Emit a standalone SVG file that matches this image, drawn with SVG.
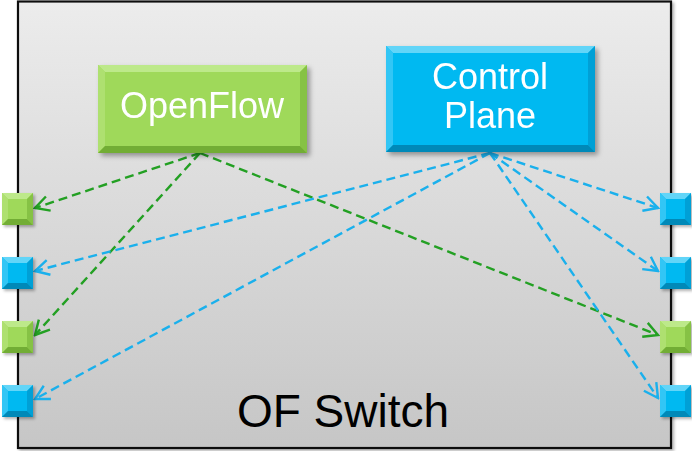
<svg xmlns="http://www.w3.org/2000/svg" width="692" height="451" viewBox="0 0 692 451">
<defs>
<linearGradient id="bg" x1="0" y1="0" x2="0" y2="1">
<stop offset="0" stop-color="#ececec"/>
<stop offset="1" stop-color="#c6c6c6"/>
</linearGradient>
<filter id="sh" x="-10%" y="-10%" width="130%" height="130%">
<feDropShadow dx="3" dy="3" stdDeviation="2.5" flood-color="#000" flood-opacity="0.35"/>
</filter>
<filter id="sh2" x="-10%" y="-10%" width="130%" height="130%">
<feDropShadow dx="2" dy="2" stdDeviation="1.5" flood-color="#000" flood-opacity="0.3"/>
</filter>
<marker id="ag" viewBox="-16 -9 18 18" markerWidth="18" markerHeight="18" refX="0" refY="0" orient="auto" markerUnits="userSpaceOnUse">
<path d="M-14,-7.5 L0,0 L-14,7.5" fill="none" stroke="#23a023" stroke-width="2.4"/>
</marker>
<marker id="ab" viewBox="-16 -9 18 18" markerWidth="18" markerHeight="18" refX="0" refY="0" orient="auto" markerUnits="userSpaceOnUse">
<path d="M-14,-7.5 L0,0 L-14,7.5" fill="none" stroke="#1ab0ec" stroke-width="2.4"/>
</marker>
</defs>
<style>
.lbl{font-family:"Liberation Sans",Arial,sans-serif;fill:#fff;text-anchor:middle}
.g{fill:none;stroke:#23a023;stroke-width:2.4;stroke-dasharray:9 5;marker-end:url(#ag)}
.b{fill:none;stroke:#1ab0ec;stroke-width:2.4;stroke-dasharray:9 5;marker-end:url(#ab)}
.gm{fill:#9fd95a}.gt{fill:#bde98a}.gl{fill:#aee070}.gr{fill:#86c244}.gb{fill:#72ad35}
.bm{fill:#06b9f1}.bt{fill:#62d5f8}.bl{fill:#33c6f5}.br{fill:#04a0d6}.bb{fill:#0589b8}
</style>

<g id="switch">
<rect x="18" y="1.5" width="653" height="446.5" fill="url(#bg)" stroke="#111" stroke-width="2.2" filter="url(#sh2)"/>
<text x="343" y="427" font-family="Liberation Sans, Arial, sans-serif" font-size="46" fill="#000" text-anchor="middle">OF Switch</text>
</g>

<g id="connectors">
<path class="g" d="M200,153 L35,208"/>
<path class="g" d="M200,153 L35,335"/>
<path class="g" d="M200,153 L658,335"/>
<path class="b" d="M490,153 L35,271"/>
<path class="b" d="M490,153 L35,399"/>
<path class="b" d="M490,153 L658,208"/>
<path class="b" d="M490,153 L658,271"/>
<path class="b" d="M490,153 L658,398"/>
</g>

<g id="openflow" filter="url(#sh)">
<rect x="98" y="65" width="209" height="88" class="gm"/>
<polygon class="gt" points="98,65 307,65 300,72 105,72"/>
<polygon class="gl" points="98,65 105,72 105,146 98,153"/>
<polygon class="gr" points="307,65 307,153 300,146 300,72"/>
<polygon class="gb" points="98,153 307,153 300,146 105,146"/>
<text class="lbl" x="202" y="118" font-size="36">OpenFlow</text>
</g>

<g id="control-plane" filter="url(#sh)">
<rect x="386" y="46" width="209" height="106" class="bm"/>
<polygon class="bt" points="386,46 595,46 588,53 393,53"/>
<polygon class="bl" points="386,46 393,53 393,145 386,152"/>
<polygon class="br" points="595,46 595,152 588,145 588,53"/>
<polygon class="bb" points="386,152 595,152 588,145 393,145"/>
<text class="lbl" x="490" y="89" font-size="36">Control</text>
<text class="lbl" x="490" y="128" font-size="36">Plane</text>
</g>

<g id="port-l1" filter="url(#sh2)">
<rect x="2" y="193" width="31" height="32" class="gm"/>
<polygon class="gt" points="2,193 33,193 27,199 8,199"/>
<polygon class="gl" points="2,193 8,199 8,219 2,225"/>
<polygon class="gr" points="33,193 33,225 27,219 27,199"/>
<polygon class="gb" points="2,225 33,225 27,219 8,219"/>
</g>
<g id="port-l2" filter="url(#sh2)">
<rect x="2" y="257" width="31" height="32" class="bm"/>
<polygon class="bt" points="2,257 33,257 27,263 8,263"/>
<polygon class="bl" points="2,257 8,263 8,283 2,289"/>
<polygon class="br" points="33,257 33,289 27,283 27,263"/>
<polygon class="bb" points="2,289 33,289 27,283 8,283"/>
</g>
<g id="port-l3" filter="url(#sh2)">
<rect x="2" y="321" width="31" height="32" class="gm"/>
<polygon class="gt" points="2,321 33,321 27,327 8,327"/>
<polygon class="gl" points="2,321 8,327 8,347 2,353"/>
<polygon class="gr" points="33,321 33,353 27,347 27,327"/>
<polygon class="gb" points="2,353 33,353 27,347 8,347"/>
</g>
<g id="port-l4" filter="url(#sh2)">
<rect x="2" y="385" width="31" height="32" class="bm"/>
<polygon class="bt" points="2,385 33,385 27,391 8,391"/>
<polygon class="bl" points="2,385 8,391 8,411 2,417"/>
<polygon class="br" points="33,385 33,417 27,411 27,391"/>
<polygon class="bb" points="2,417 33,417 27,411 8,411"/>
</g>

<g id="port-r1" filter="url(#sh2)">
<rect x="660" y="193" width="31" height="32" class="bm"/>
<polygon class="bt" points="660,193 691,193 685,199 666,199"/>
<polygon class="bl" points="660,193 666,199 666,219 660,225"/>
<polygon class="br" points="691,193 691,225 685,219 685,199"/>
<polygon class="bb" points="660,225 691,225 685,219 666,219"/>
</g>
<g id="port-r2" filter="url(#sh2)">
<rect x="660" y="257" width="31" height="32" class="bm"/>
<polygon class="bt" points="660,257 691,257 685,263 666,263"/>
<polygon class="bl" points="660,257 666,263 666,283 660,289"/>
<polygon class="br" points="691,257 691,289 685,283 685,263"/>
<polygon class="bb" points="660,289 691,289 685,283 666,283"/>
</g>
<g id="port-r3" filter="url(#sh2)">
<rect x="660" y="321" width="31" height="32" class="gm"/>
<polygon class="gt" points="660,321 691,321 685,327 666,327"/>
<polygon class="gl" points="660,321 666,327 666,347 660,353"/>
<polygon class="gr" points="691,321 691,353 685,347 685,327"/>
<polygon class="gb" points="660,353 691,353 685,347 666,347"/>
</g>
<g id="port-r4" filter="url(#sh2)">
<rect x="660" y="385" width="31" height="32" class="bm"/>
<polygon class="bt" points="660,385 691,385 685,391 666,391"/>
<polygon class="bl" points="660,385 666,391 666,411 660,417"/>
<polygon class="br" points="691,385 691,417 685,411 685,391"/>
<polygon class="bb" points="660,417 691,417 685,411 666,411"/>
</g>
</svg>
